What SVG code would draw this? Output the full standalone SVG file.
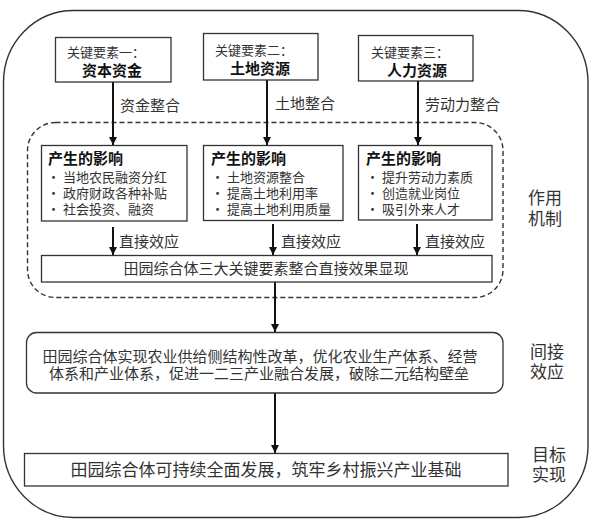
<svg xmlns="http://www.w3.org/2000/svg" width="592" height="523" viewBox="0 0 592 523">
<defs>
<marker id="ah" viewBox="0 0 10 10" refX="10" refY="5" markerWidth="8" markerHeight="8" markerUnits="userSpaceOnUse" orient="auto">
<path d="M0,0 L10,5 L0,10 z" fill="#111"/>
</marker>
<style>
.box{fill:#fff;stroke:#333;stroke-width:1.3}
.t{font-family:"Noto Sans CJK SC","Noto Sans",sans-serif;fill:#333}
.b{font-weight:bold;fill:#111}
.s13{font-size:13px}
.s15{font-size:15px}
.s17{font-size:17px}
.c{text-anchor:middle}
.arr{stroke:#111;stroke-width:2;fill:none;marker-end:url(#ah)}
</style>
</defs>
<rect width="592" height="523" fill="#fff"/>
<g id="outer"><rect x="3.5" y="10.5" width="584.5" height="507" rx="70" ry="72" fill="none" stroke="#333" stroke-width="1.4"/></g>
<g id="mechanism"><rect x="27.5" y="122.5" width="475.5" height="175" rx="28" ry="28" fill="none" stroke="#333" stroke-width="1.4" stroke-dasharray="5,3"/></g>

<g id="connectors">
<line class="arr" x1="113" y1="82" x2="113" y2="145"/>
<line class="arr" x1="267" y1="80" x2="267" y2="145"/>
<line class="arr" x1="418" y1="81" x2="418" y2="145"/>
<line class="arr" x1="113" y1="227" x2="113" y2="255"/>
<line class="arr" x1="273" y1="224" x2="273" y2="255"/>
<line class="arr" x1="417" y1="224" x2="417" y2="255"/>
<line class="arr" x1="275" y1="282" x2="275" y2="332"/>
<line class="arr" x1="275" y1="393" x2="275" y2="453"/>
<text class="t s15" x="120" y="111">资金整合</text>
<text class="t s15" x="275" y="109">土地整合</text>
<text class="t s15" x="425" y="110">劳动力整合</text>
<text class="t s15" x="119" y="247">直接效应</text>
<text class="t s15" x="281" y="247">直接效应</text>
<text class="t s15" x="425" y="247">直接效应</text>
</g>

<g id="key1"><rect class="box" x="55.5" y="37.5" width="115.5" height="44.5"/>
<text class="t s13" x="67" y="57">关键要素一：</text>
<text class="t b s15 c" x="112" y="76">资本资金</text></g>
<g id="key2"><rect class="box" x="203.5" y="33.5" width="114.5" height="46.5"/>
<text class="t s13" x="215" y="55">关键要素二：</text>
<text class="t b s15 c" x="260" y="74">土地资源</text></g>
<g id="key3"><rect class="box" x="358.5" y="35.5" width="114.5" height="45.5"/>
<text class="t s13" x="371" y="57">关键要素三：</text>
<text class="t b s15 c" x="417" y="76">人力资源</text></g>

<g id="impact1"><rect class="box" x="41.5" y="145.5" width="145.5" height="75.5"/>
<text class="t b s15" x="48" y="164">产生的影响</text>
<text class="t s13" x="47" y="182">•</text><text class="t s13" x="63" y="182">当地农民融资分红</text>
<text class="t s13" x="47" y="198">•</text><text class="t s13" x="63" y="198">政府财政各种补贴</text>
<text class="t s13" x="47" y="214">•</text><text class="t s13" x="63" y="214">社会投资、融资</text></g>
<g id="impact2"><rect class="box" x="203.5" y="145.5" width="139.5" height="75"/>
<text class="t b s15" x="211" y="164">产生的影响</text>
<text class="t s13" x="211" y="182">•</text><text class="t s13" x="227" y="182">土地资源整合</text>
<text class="t s13" x="211" y="198">•</text><text class="t s13" x="227" y="198">提高土地利用率</text>
<text class="t s13" x="211" y="214">•</text><text class="t s13" x="227" y="214">提高土地利用质量</text></g>
<g id="impact3"><rect class="box" x="358.5" y="145.5" width="133.5" height="74.5"/>
<text class="t b s15" x="366" y="164">产生的影响</text>
<text class="t s13" x="366" y="182">•</text><text class="t s13" x="382" y="182">提升劳动力素质</text>
<text class="t s13" x="366" y="198">•</text><text class="t s13" x="382" y="198">创造就业岗位</text>
<text class="t s13" x="366" y="214">•</text><text class="t s13" x="382" y="214">吸引外来人才</text></g>

<g id="direct"><rect class="box" x="41.5" y="255.5" width="450.5" height="26.5"/>
<text class="t s15 c" x="266" y="274">田园综合体三大关键要素整合直接效果显现</text></g>

<g id="indirect"><rect class="box" x="26.5" y="332.5" width="476.5" height="60.5" rx="10" ry="10"/>
<text class="t s15 c"><tspan x="260" y="362">田园综合体实现农业供给侧结构性改革，优化农业生产体系、经营</tspan><tspan x="259" y="379">体系和产业体系，促进一二三产业融合发展，破除二元结构壁垒</tspan></text></g>

<g id="goal"><rect class="box" x="24.5" y="453.5" width="483.5" height="32.5"/>
<text class="t s17 c" x="266" y="476">田园综合体可持续全面发展，筑牢乡村振兴产业基础</text></g>

<g id="labels">
<text class="t s17"><tspan x="528" y="204">作用</tspan><tspan x="528" y="225">机制</tspan></text>
<text class="t s17"><tspan x="530" y="358">间接</tspan><tspan x="530" y="378">效应</tspan></text>
<text class="t s17"><tspan x="532" y="461">目标</tspan><tspan x="532" y="481">实现</tspan></text>
</g>
</svg>
